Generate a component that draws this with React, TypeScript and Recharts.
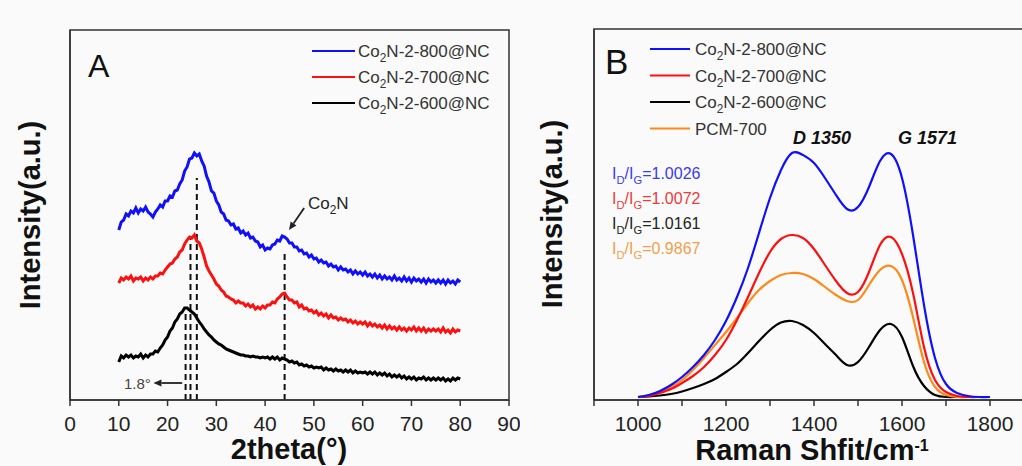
import React from 'react';
import { LineChart, Line, XAxis, YAxis, ReferenceLine, ReferenceArea } from 'recharts';

// ---------- Panel A: XRD ----------
const xrdTheta = [
  10,10.5,11,11.5,12,12.5,13,13.5,14,14.5,15,15.5,16,16.5,17,17.5,18,18.5,19,19.5,
  20,20.5,21,21.5,22,22.5,23,23.5,24,24.5,25,25.5,26,26.5,27,27.5,28,28.5,29,29.5,
  30,30.5,31,31.5,32,32.5,33,33.5,34,34.5,35,35.5,36,36.5,37,37.5,38,38.5,39,39.5,
  40,40.5,41,41.5,42,42.5,43,43.5,44,44.5,45,45.5,46,46.5,47,47.5,48,48.5,49,49.5,
  50,50.5,51,51.5,52,52.5,53,53.5,54,54.5,55,55.5,56,56.5,57,57.5,58,58.5,59,59.5,
  60,60.5,61,61.5,62,62.5,63,63.5,64,64.5,65,65.5,66,66.5,67,67.5,68,68.5,69,69.5,
  70,70.5,71,71.5,72,72.5,73,73.5,74,74.5,75,75.5,76,76.5,77,77.5,78,78.5,79,79.5,
  80];
const xrd800 = [
  170,178,180,186,184,189,187,192,187,191,189,193,188,186,183,188,191,195,193,199,
  199,204,203,209,210,216,220,229,233,241,242,247,244,246,239,234,224,218,209,207,
  199,195,188,186,180,179,175,176,171,172,167,169,165,167,162,163,159,158,153,155,
  150,152,151,155,156,160,159,164,163,161,157,157,153,153,149,150,146,147,143,145,
  141,142,138,140,137,138,134,136,133,134,130,133,130,131,128,130,126,129,126,128,
  125,128,124,126,123,126,122,125,121,124,121,123,120,124,120,122,119,123,119,122,
  118,122,119,121,118,121,117,121,118,120,117,120,117,120,116,120,117,119,116,120,
  118];
const xrd700 = [
  117,122,120,123,121,124,119,122,121,123,119,122,120,123,121,124,124,127,126,130,
  133,136,137,141,143,148,150,156,160,163,162,165,159,157,151,143,134,129,125,121,
  116,114,110,108,104,103,101,100,97,99,97,97,94,96,93,95,91,93,91,94,
  92,95,95,98,97,101,103,106,107,103,100,100,97,98,93,95,91,92,89,90,
  87,89,85,87,84,86,82,85,82,83,80,82,80,81,78,80,77,79,76,78,
  76,78,74,77,74,76,73,75,72,75,71,74,71,73,70,73,70,72,69,72,
  70,73,69,72,69,72,68,71,69,71,69,71,68,72,68,70,67,71,68,70,
  69];
const xrd600 = [
  38,44,42,45,43,45,42,44,43,46,42,45,43,46,46,49,48,52,55,60,
  63,69,72,78,81,86,88,92,92,90,88,86,82,78,75,71,68,65,63,60,
  58,56,55,53,51,50,49,48,47,46,45,45,44,44,43,44,43,43,42,43,
  42,43,41,43,41,43,40,42,41,40,38,39,37,38,35,36,34,35,33,34,
  32,33,32,33,30,32,30,31,29,31,29,30,28,30,28,30,27,29,27,28,
  27,28,26,28,26,28,25,27,25,27,24,26,23,25,23,25,22,24,21,23,
  21,23,20,22,21,23,20,22,20,22,20,22,20,22,19,21,19,22,20,22,
  21];
const xrdTicks = [0,10,20,30,40,50,60,70,80,90];
const xrdGuides = [
  { x: 23.7, top: 88 },
  { x: 24.7, top: 163 },
  { x: 26.0, top: 222 },
  { x: 44.0, top: 147 },
];
const xrdNames = ['800', '700', '600'];
const xrdColors = ['#1010ff', '#ff1010', '#000000'];

// ---------- Panel B: Raman ----------
const ramanShift = [1000,1025,1050,1075,1100,1125,1150,1175,1200,1225,1250,1275,1300,1325,1350,1375,1400,1425,1450,1475,1500,1525,1550,1575,1600,1625,1650,1675,1700,1725,1750,1775,1800];
const raman800 = [3,5,9,15,23,33,45,60,79,103,132,167,202,230,247,245,237,222,205,191,193,213,239,246,222,165,95,42,16,7,4,3,3];
const raman700 = [3,4,7,11,17,24,33,45,60,80,103,127,148,161,165,162,151,135,119,107,108,128,155,163,146,107,53,20,8,4,3,3,3];
const raman600 = [3,3.5,4.5,6,8.5,12,16,21,28,36,47,59,70,77.5,79,75,67,56,45,35,38,53,70,76,63,34,14,5,3,3,3,3,3];
const ramanPCM = [3,5,8,13,20,30,42,55,68,82,97,110,119,125,127,126,121,113,105,99,100,115,130,134,120,83,38,13,5,3,3,3,3];
const ramanTicks = [900,1000,1100,1200,1300,1400,1500,1600,1700,1800,1900];
const ramanLegend = ['Co2N-2-800@NC', 'Co2N-2-700@NC', 'Co2N-2-600@NC', 'PCM-700'];
const ramanColors = ['#1010ff', '#ff1010', '#000000', '#ff8a1a'];
const ratioValues = ['1.0026', '1.0072', '1.0161', '0.9867'];
const ratioColors = ['#3a3af0', '#ee3a3a', '#222222', '#f2a050'];

const xrdData = xrdTheta.map((t, i) => ({ t, s800: xrd800[i], s700: xrd700[i], s600: xrd600[i] }));
const ramanData = ramanShift.map((w, i) => ({ w, s800: raman800[i], s700: raman700[i], s600: raman600[i], pcm: ramanPCM[i] }));

const FONT = '"Liberation Sans", Arial, Helvetica, sans-serif';
const AXIS = '#333';

const arrowShape = (props: any) => {
  const { x1, y1, x2, y2 } = props;
  const ang = Math.atan2(y2 - y1, x2 - x1);
  const L = 8, W = 3.5;
  const bx = x2 - L * Math.cos(ang), by = y2 - L * Math.sin(ang);
  const px = -Math.sin(ang) * W, py = Math.cos(ang) * W;
  return (
    <g>
      <line x1={x1} y1={y1} x2={bx} y2={by} stroke="#222" strokeWidth={1.8} />
      <polygon points={`${x2},${y2} ${bx + px},${by + py} ${bx - px},${by - py}`} fill="#222" />
    </g>
  );
};

const Co2N = ({ rest }: { rest: string }) => (
  <>
    Co<tspan dy={5} fontSize="0.7em">2</tspan><tspan dy={-5}>{rest}</tspan>
  </>
);

const Ratio = ({ value }: { value: string }) => (
  <>
    I<tspan dy={5} fontSize="0.7em">D</tspan><tspan dy={-5}>/I</tspan><tspan dy={5} fontSize="0.7em">G</tspan><tspan dy={-5}>={value}</tspan>
  </>
);

export default function App() {
  return (
    <div style={{ position: 'absolute', left: 0, top: 0, width: 1022, height: 466, overflow: 'hidden', background: '#fafafa', fontFamily: FONT }}>
      {/* Panel A */}
      <div style={{ position: 'absolute', left: 0, top: 0 }}>
        <LineChart width={520} height={466} data={xrdData} margin={{ top: 30, right: 11, bottom: 0, left: 0 }} style={{ fontFamily: FONT }}>
          <XAxis dataKey="t" type="number" domain={[0, 90]} ticks={xrdTicks} height={66} tickSize={6} tickMargin={10}
            stroke={AXIS} strokeWidth={1.5} tick={{ fill: '#222', fontSize: 21, fontFamily: FONT }} />
          <YAxis type="number" domain={[0, 370]} width={70} tick={false} tickLine={false} stroke={AXIS} strokeWidth={1.5} />
          <ReferenceArea x1={0} x2={90} y1={0} y2={370} fill="none" fillOpacity={0} stroke={AXIS} strokeWidth={1.5} ifOverflow="visible" />
          {xrdGuides.map((g, i) => (
            <ReferenceLine key={i} segment={[{ x: g.x, y: 0 }, { x: g.x, y: g.top }]} stroke="#111" strokeWidth={2} strokeDasharray="6 4" ifOverflow="visible" />
          ))}
          <ReferenceLine segment={[{ x: 23.0, y: 17 }, { x: 17.1, y: 17 }]} shape={arrowShape} ifOverflow="visible" />
          <ReferenceLine segment={[{ x: 48.0, y: 192 }, { x: 44.9, y: 170 }]} shape={arrowShape} ifOverflow="visible" />
          <Line dataKey="s800" stroke={xrdColors[0]} strokeWidth={3} dot={false} type="linear" isAnimationActive={false} />
          <Line dataKey="s700" stroke={xrdColors[1]} strokeWidth={3} dot={false} type="linear" isAnimationActive={false} />
          <Line dataKey="s600" stroke={xrdColors[2]} strokeWidth={3} dot={false} type="linear" isAnimationActive={false} />
        </LineChart>
      </div>

      {/* Panel B */}
      <div style={{ position: 'absolute', left: 520, top: 0 }}>
        <LineChart width={530} height={466} data={ramanData} margin={{ top: 29, right: 16, bottom: 0, left: 0 }} style={{ fontFamily: FONT }}>
          <XAxis dataKey="w" type="number" domain={[900, 1900]} ticks={ramanTicks} height={66} tickSize={6} tickMargin={10}
            tickFormatter={(v: number) => (v % 200 === 0 && v >= 1000 && v <= 1800 ? String(v) : '')}
            stroke={AXIS} strokeWidth={1.5} tick={{ fill: '#222', fontSize: 21, fontFamily: FONT }} />
          <YAxis type="number" domain={[0, 371]} width={74} tick={false} tickLine={false} stroke={AXIS} strokeWidth={1.5} />
          <ReferenceArea x1={900} x2={1900} y1={0} y2={371} fill="none" fillOpacity={0} stroke={AXIS} strokeWidth={1.5} ifOverflow="visible" />
          <Line dataKey="s600" stroke={ramanColors[2]} strokeWidth={2.2} dot={false} type="natural" isAnimationActive={false} />
          <Line dataKey="pcm" stroke={ramanColors[3]} strokeWidth={2.2} dot={false} type="natural" isAnimationActive={false} />
          <Line dataKey="s700" stroke={ramanColors[1]} strokeWidth={2.2} dot={false} type="natural" isAnimationActive={false} />
          <Line dataKey="s800" stroke={ramanColors[0]} strokeWidth={2.2} dot={false} type="natural" isAnimationActive={false} />
        </LineChart>
      </div>

      {/* Text annotations */}
      <svg width={1022} height={466} style={{ position: 'absolute', left: 0, top: 0, pointerEvents: 'none', fontFamily: FONT }}>
        {/* Axis titles */}
        <text x={289} y={459} textAnchor="middle" fontSize={29} fontWeight="bold" fill="#111">2theta(°)</text>
        <text transform="translate(40,215) rotate(-90)" textAnchor="middle" fontSize={29} fontWeight="bold" fill="#111">Intensity(a.u.)</text>
        <text x={812} y={460} textAnchor="middle" fontSize={29} fontWeight="bold" fill="#111">
          Raman Shfit/cm<tspan dy={-9} fontSize={16}>-1</tspan>
        </text>
        <text transform="translate(562,214) rotate(-90)" textAnchor="middle" fontSize={29} fontWeight="bold" fill="#111">Intensity(a.u.)</text>

        {/* Panel letters */}
        <text x={88} y={77} fontSize={32} fill="#111">A</text>
        <text x={605} y={74} fontSize={35} fill="#111">B</text>

        {/* Legend A */}
        {xrdNames.map((n, i) => (
          <g key={n}>
            <line x1={312} x2={355} y1={51 + i * 26} y2={51 + i * 26} stroke={xrdColors[i]} strokeWidth={2} />
            <text x={358} y={57 + i * 26} fontSize={17} fill="#333"><Co2N rest={`N-2-${n}@NC`} /></text>
          </g>
        ))}

        {/* Legend B */}
        {ramanLegend.map((n, i) => (
          <g key={n}>
            <line x1={650} x2={690} y1={49 + i * 26.5} y2={49 + i * 26.5} stroke={ramanColors[i]} strokeWidth={2} />
            <text x={695} y={55 + i * 26.5} fontSize={17} fill="#333">
              {n.startsWith('Co2') ? <Co2N rest={n.slice(3)} /> : n}
            </text>
          </g>
        ))}

        {/* ID/IG ratios */}
        {ratioValues.map((v, i) => (
          <text key={v} x={612} y={179 + i * 25} fontSize={16} fill={ratioColors[i]}><Ratio value={v} /></text>
        ))}

        {/* Peak labels */}
        <text x={793} y={144} fontSize={18} fontWeight="bold" fontStyle="italic" fill="#111">D 1350</text>
        <text x={898} y={144} fontSize={18} fontWeight="bold" fontStyle="italic" fill="#111">G 1571</text>

        {/* XRD annotations */}
        <text x={308} y={209} fontSize={17} fill="#222"><Co2N rest="N" /></text>
        <text x={124} y={389} fontSize={15} fill="#444">1.8°</text>
      </svg>
    </div>
  );
}
